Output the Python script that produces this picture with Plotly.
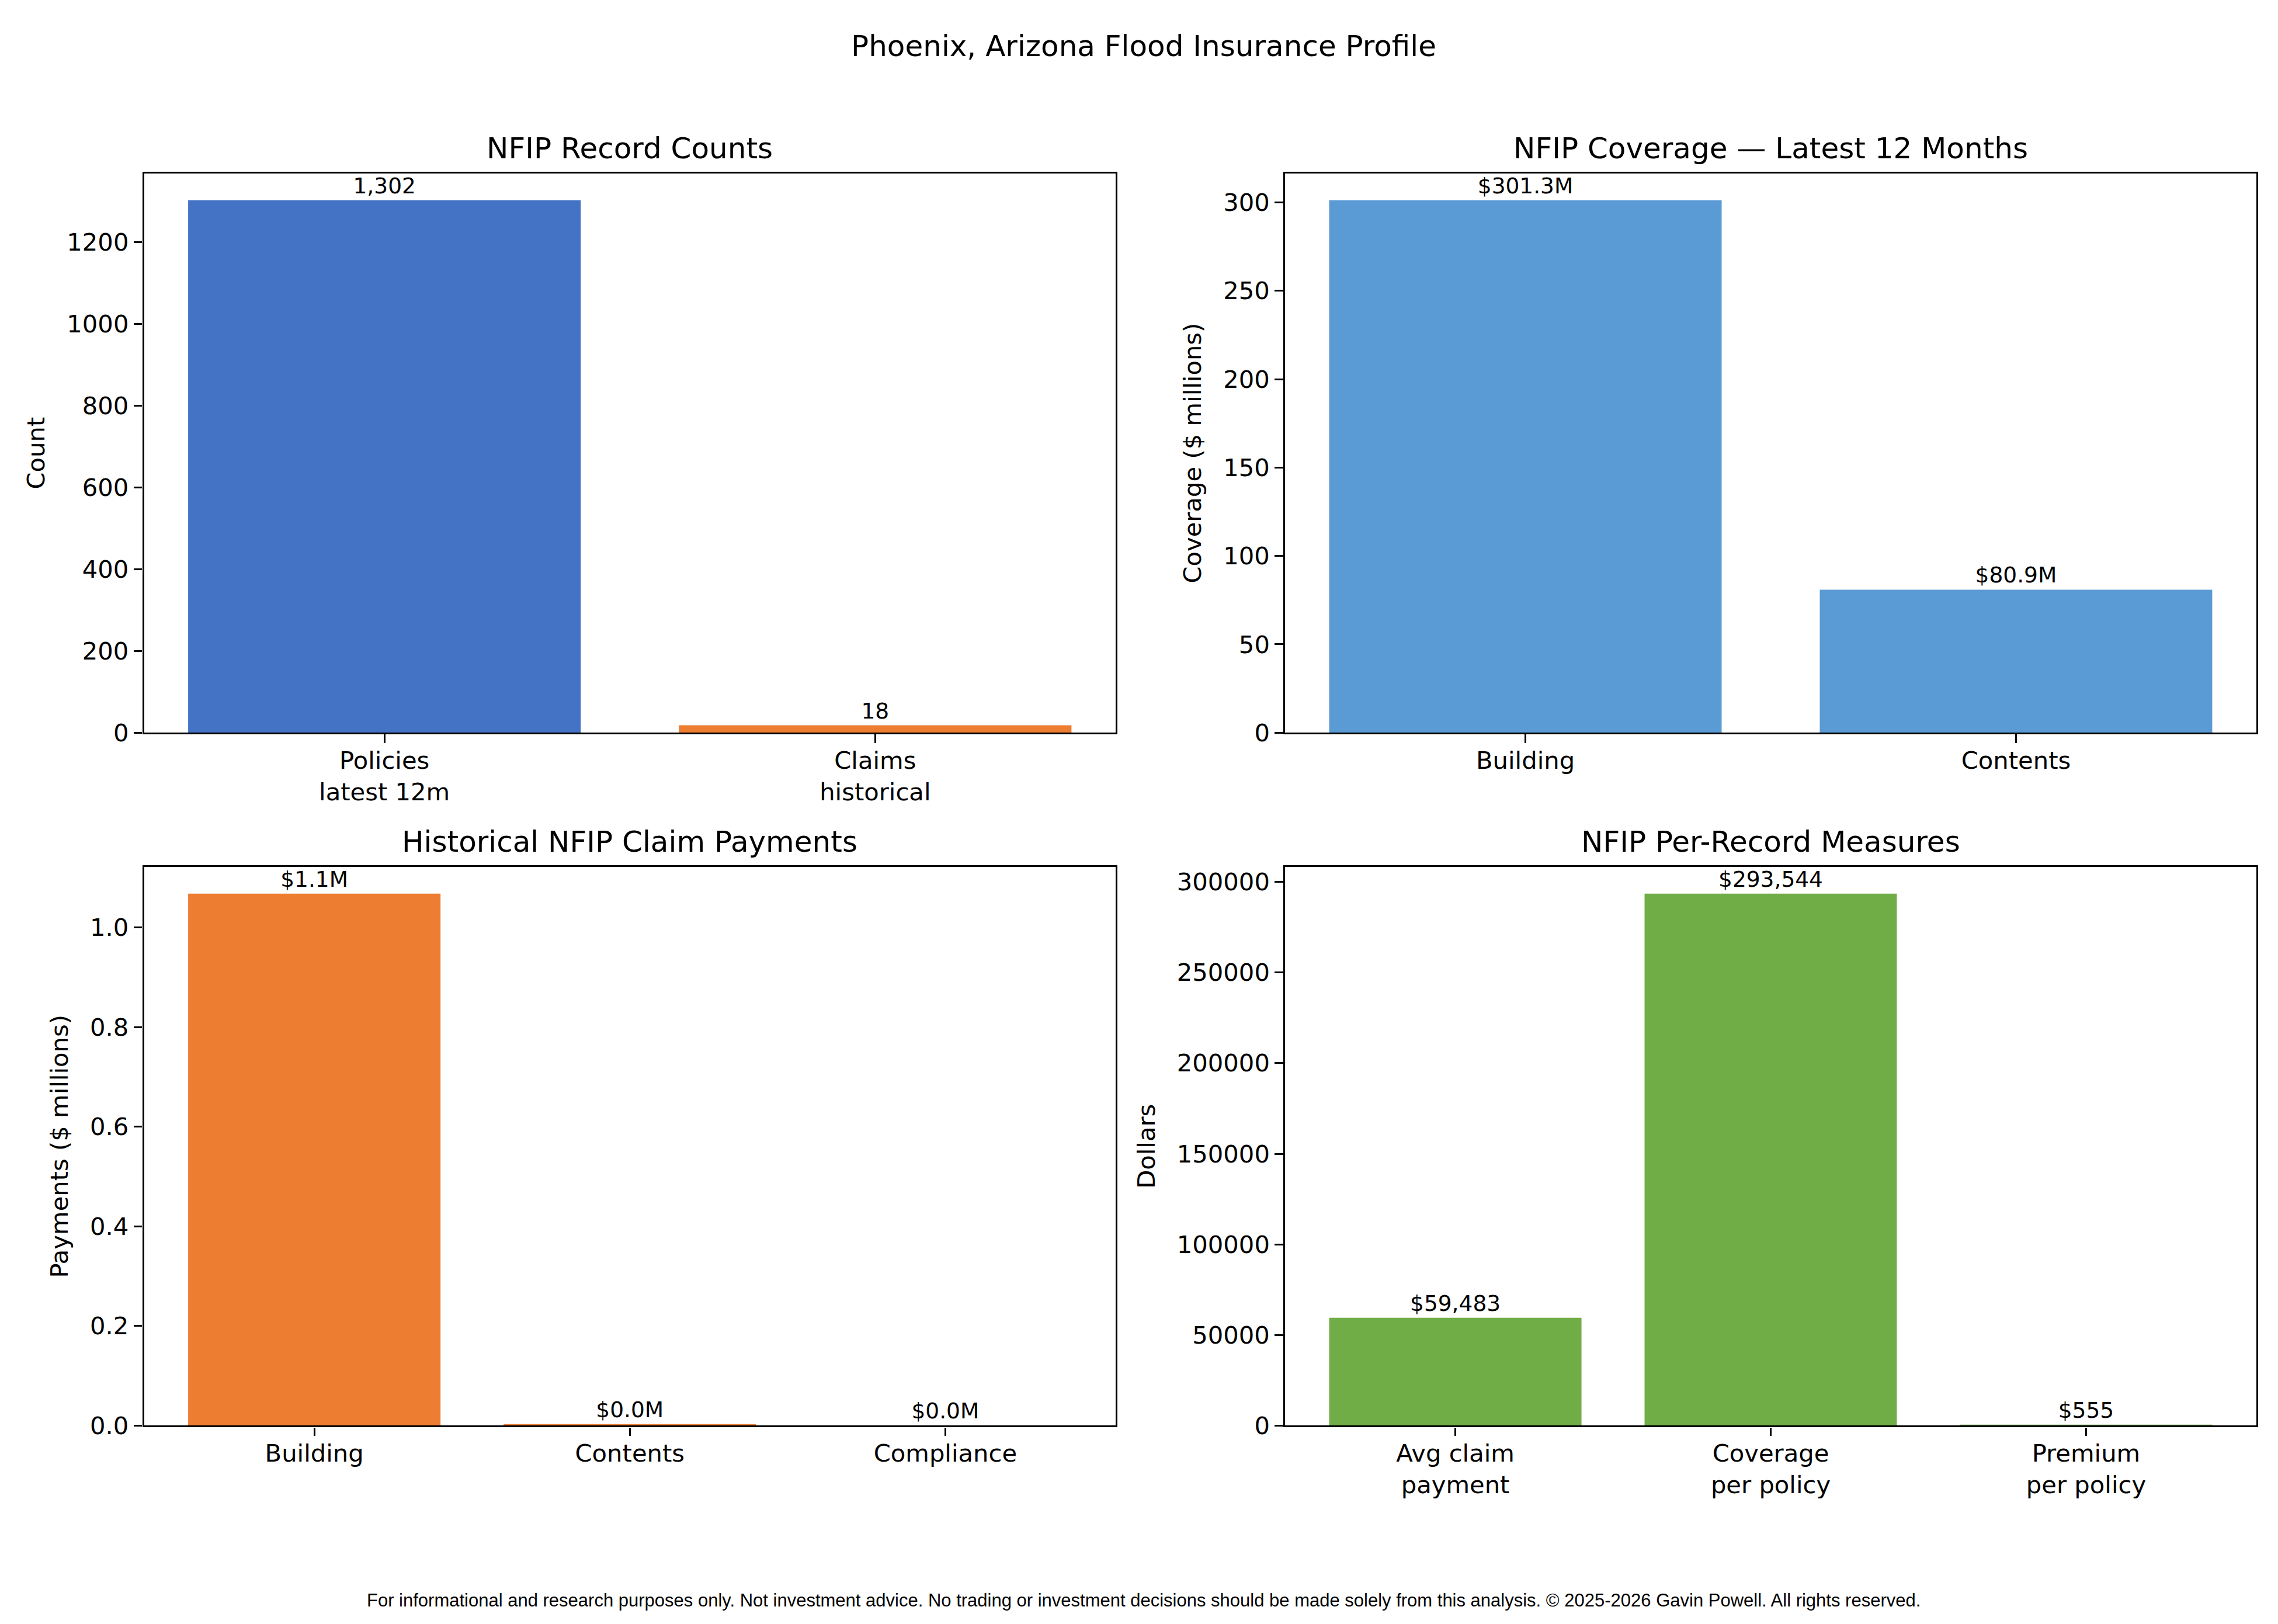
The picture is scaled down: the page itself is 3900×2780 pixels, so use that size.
import plotly.graph_objects as go
from plotly.subplots import make_subplots

# -------- DATOS --------
count_labels = ["Policies<br>latest 12m", "Claims<br>historical"]
count_values = [1302, 18]

coverage_labels = ["Building", "Contents"]
coverage_values = [301.3, 80.9]          # $ millones

payment_labels = ["Building", "Contents", "Compliance"]
payment_values = [1.068, 0.003, 0.0]     # $ millones

measure_labels = ["Avg claim<br>payment", "Coverage<br>per policy", "Premium<br>per policy"]
measure_values = [59483, 293544, 555]

W, H = 3900, 2780
FONT = "DejaVu Sans"
TICK = 41.7
TITLE = 50
BARLBL = 37.5

fig = make_subplots(rows=2, cols=2)

fig.add_trace(go.Bar(
    x=count_labels, y=count_values, width=0.8,
    marker=dict(color=["#4472C4", "#ED7D31"], line=dict(width=0)),
    text=[f"{v:,}" for v in count_values],
), row=1, col=1)

fig.add_trace(go.Bar(
    x=coverage_labels, y=coverage_values, width=0.8,
    marker=dict(color="#5B9BD5", line=dict(width=0)),
    text=[f"${v:,.1f}M" for v in coverage_values],
), row=1, col=2)

fig.add_trace(go.Bar(
    x=payment_labels, y=payment_values, width=0.8,
    marker=dict(color="#ED7D31", line=dict(width=0)),
    text=[f"${v:,.1f}M" for v in payment_values],
), row=2, col=1)

fig.add_trace(go.Bar(
    x=measure_labels, y=measure_values, width=0.8,
    marker=dict(color="#70AD47", line=dict(width=0)),
    text=[f"${v:,}" for v in measure_values],
), row=2, col=2)

fig.update_traces(textposition="outside", cliponaxis=False, constraintext="none",
                  textfont=dict(family=FONT, size=BARLBL, color="black"),
                  showlegend=False)

# -------- EJES --------
xdom = [[238.5 / W, 1902 / W], [2192 / W, 3855 / W]]
ydom = [[1 - 1257.5 / H, 1 - 291.7 / H], [1 - 2454.5 / H, 1 - 1489.5 / H]]

axis_style = dict(showline=True, linecolor="black", linewidth=3.3, mirror=True,
                  ticks="outside", ticklen=14.6, tickwidth=3.3, tickcolor="black",
                  showgrid=False, zeroline=False,
                  tickfont=dict(family=FONT, size=TICK, color="black"))

panels = [
    (1, 1, count_values, 2, "Count", dict(dtick=200)),
    (1, 2, coverage_values, 2, "Coverage ($ millions)", dict(dtick=50)),
    (2, 1, payment_values, 3, "Payments ($ millions)", dict(dtick=0.2, tickformat=".1f")),
    (2, 2, measure_values, 3, "Dollars", dict(dtick=50000, tickformat="d")),
]
for r, c, vals, n, ytitle, extra in panels:
    span = n - 1 + 0.8
    fig.update_xaxes(domain=xdom[c - 1], range=[-0.4 - 0.05 * span, n - 1 + 0.4 + 0.05 * span],
                     ticklabelstandoff=-6, **axis_style, row=r, col=c)
    fig.update_yaxes(domain=ydom[r - 1], range=[0, max(vals) * 1.05],
                     title=dict(text=ytitle, standoff=25, font=dict(family=FONT, size=TICK, color="black")),
                     **axis_style, **extra, row=r, col=c)

# -------- TITULOS --------
sub_titles = ["NFIP Record Counts", "NFIP Coverage — Latest 12 Months",
              "Historical NFIP Claim Payments", "NFIP Per-Record Measures"]
for i, t in enumerate(sub_titles):
    r, c = divmod(i, 2)
    fig.add_annotation(text=t, xref="paper", yref="paper",
                       x=sum(xdom[c]) / 2, y=ydom[r][1] + 12 / H,
                       xanchor="center", yanchor="bottom", showarrow=False,
                       font=dict(family=FONT, size=TITLE, color="black"))

fig.add_annotation(text="Phoenix, Arizona Flood Insurance Profile", xref="paper", yref="paper",
                   x=0.5, y=1 - 72 / H, xanchor="center", yanchor="middle", showarrow=False,
                   font=dict(family=FONT, size=TITLE, color="black"))

fig.add_annotation(text="For informational and research purposes only. Not investment advice. "
                        "No trading or investment decisions should be made solely from this analysis. "
                        "© 2025-2026 Gavin Powell. All rights reserved.",
                   xref="paper", yref="paper", x=0.5, y=1 - 2756 / H,
                   xanchor="center", yanchor="middle", showarrow=False,
                   font=dict(family="Liberation Sans", size=31, color="black"))

fig.update_layout(width=W, height=H, margin=dict(l=0, r=0, t=0, b=0),
                  plot_bgcolor="white", paper_bgcolor="white", bargap=0.2,
                  font=dict(family=FONT, color="black"))

fig.write_html("out.html")
